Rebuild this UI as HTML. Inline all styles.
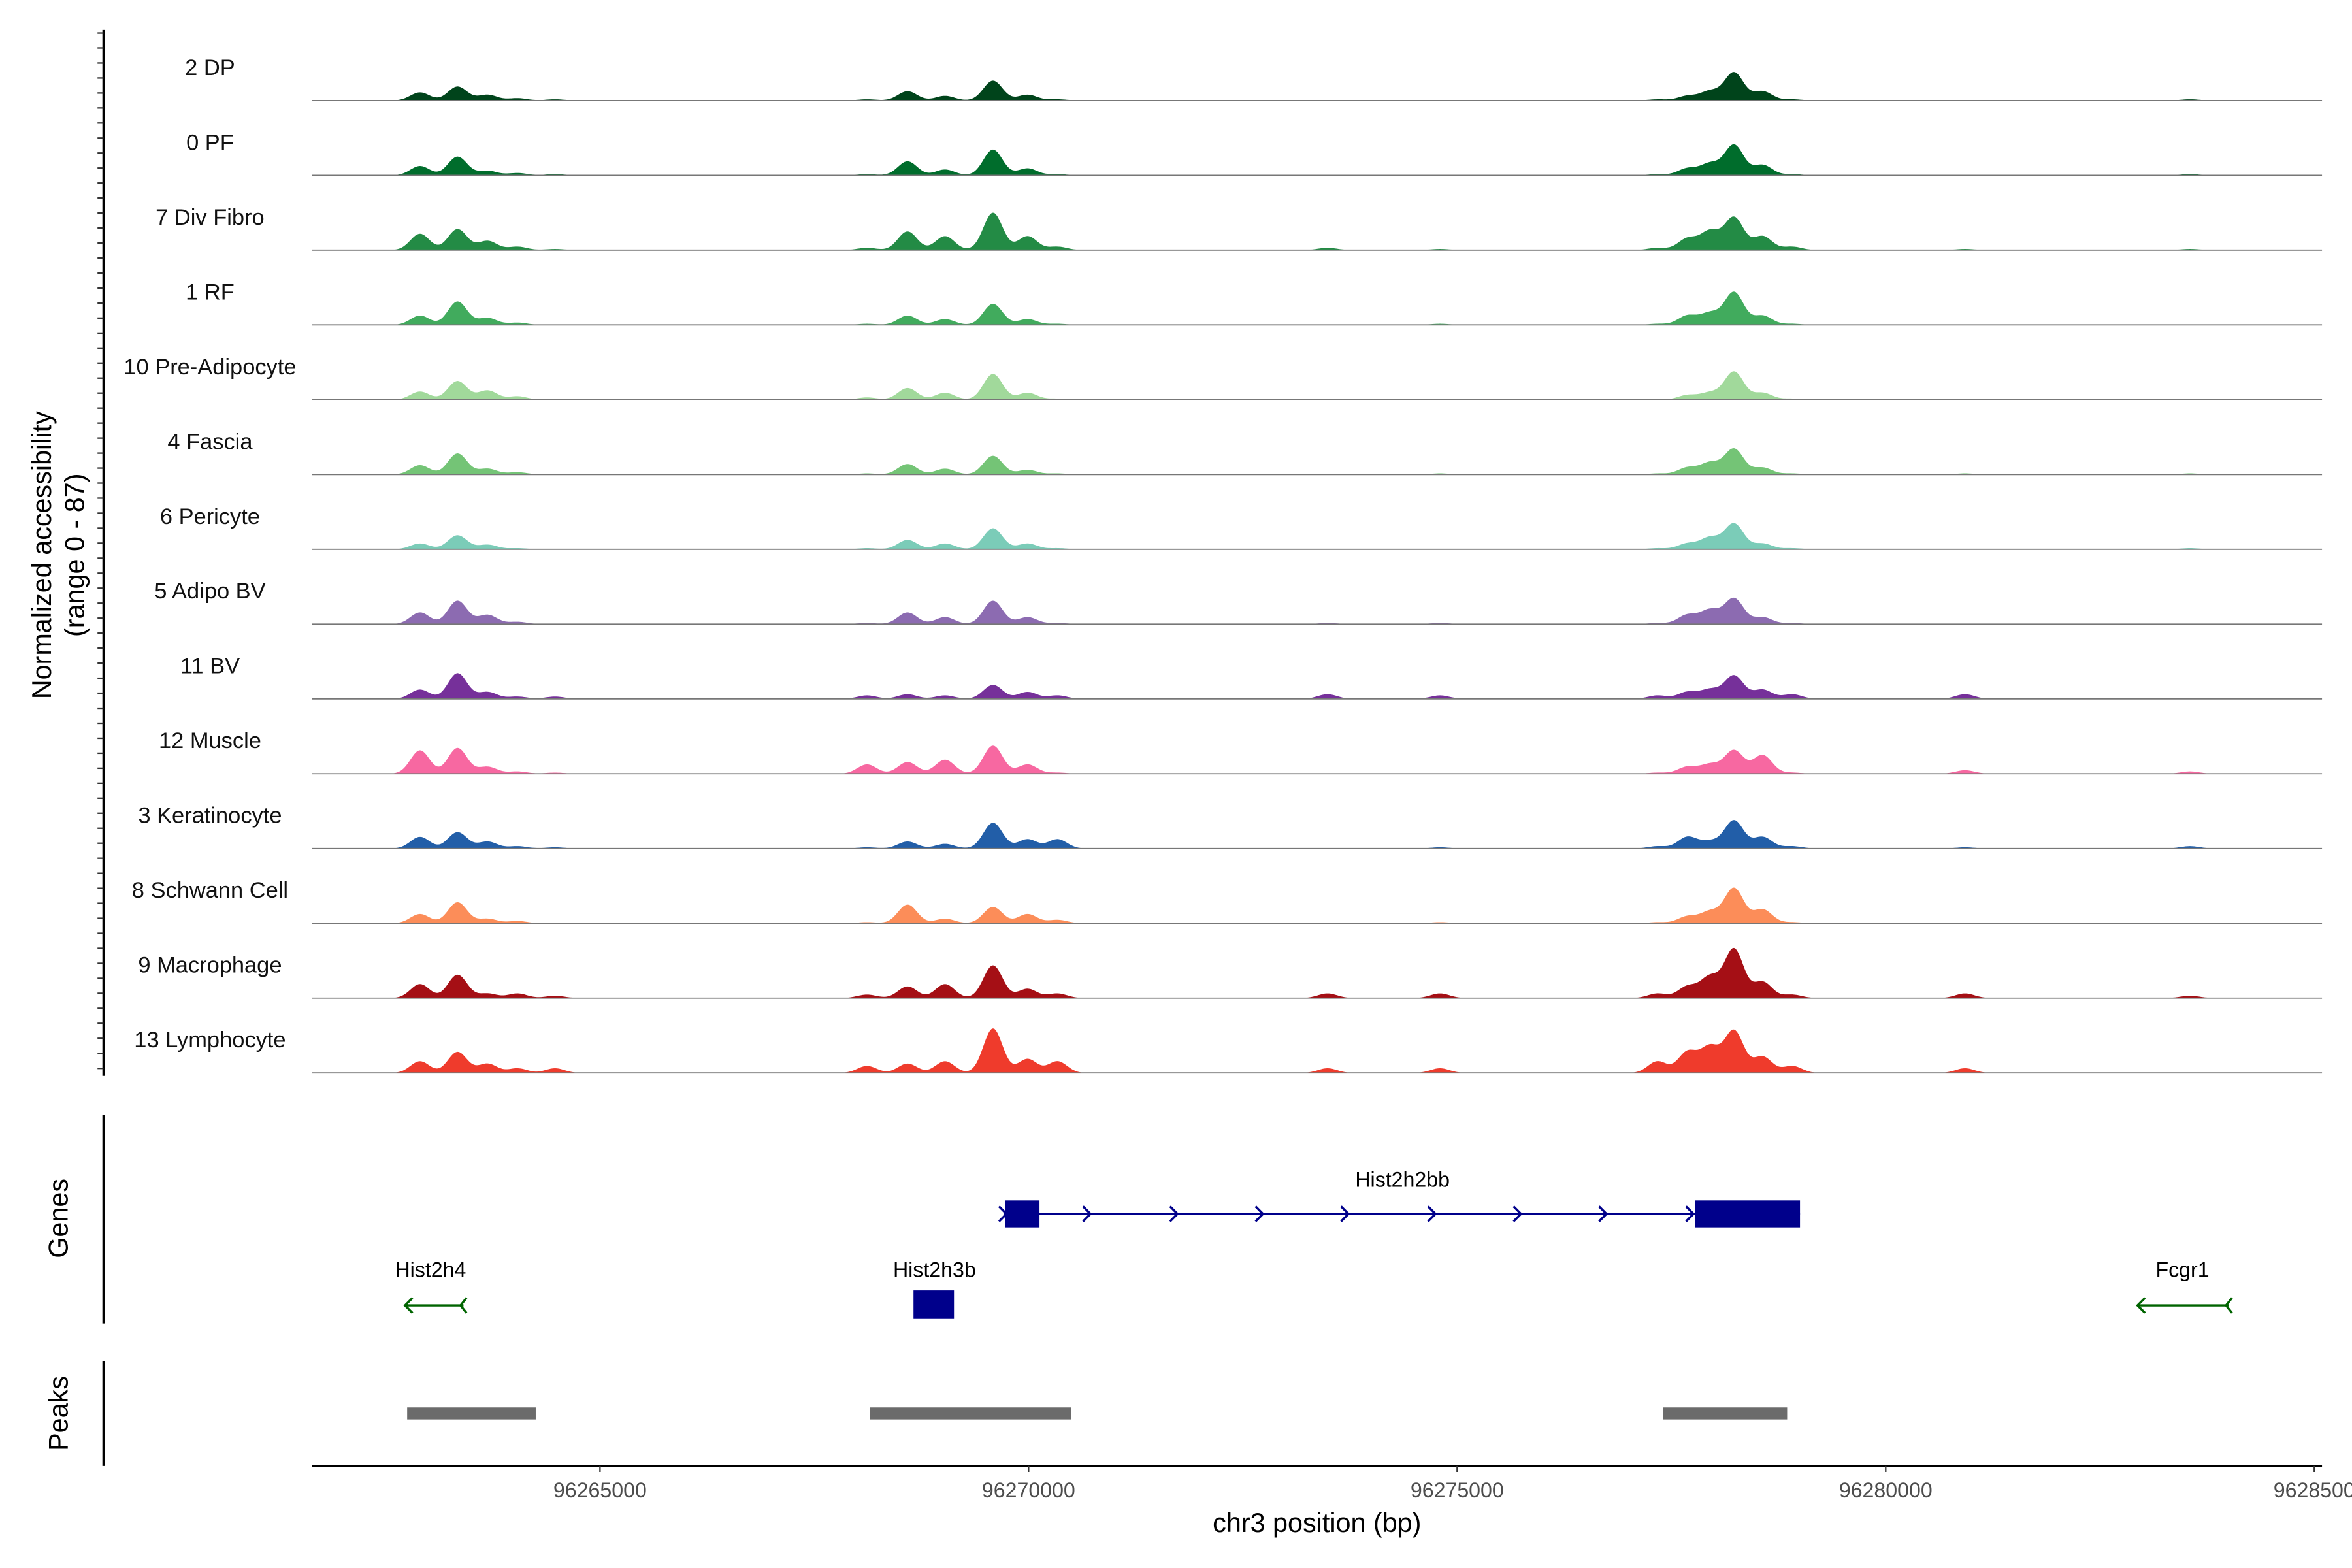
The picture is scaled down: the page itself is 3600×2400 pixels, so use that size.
<!DOCTYPE html>
<html><head><meta charset="utf-8"><style>
html,body{margin:0;padding:0;background:#fff;}
svg{display:block;font-family:"Liberation Sans",Arial,sans-serif;}
</style></head><body>
<svg id="chart" width="3600" height="2400" viewBox="0 0 1568 1045" preserveAspectRatio="none" xmlns="http://www.w3.org/2000/svg">
<rect width="1568" height="1045" fill="#fff"/>
<g id="tracks"></g>
<g id="genes"></g>
<g id="peaks"></g>
<g id="axes"></g>
</svg>
<script>
const trackNames = ["2 DP","0 PF","7 Div Fibro","1 RF","10 Pre-Adipocyte","4 Fascia","6 Pericyte","5 Adipo BV","11 BV","12 Muscle","3 Keratinocyte","8 Schwann Cell","9 Macrophage","13 Lymphocyte"];
const trackColors = ["#00441b","#006d2c","#238b45","#41ab5d","#a1d99b","#74c476","#7bccb8","#8c6bb1","#76309a","#f768a1","#225ea8","#fc8d59","#a50f15","#ef3b2c"];
const peakPositions = [96262900,96263338,96263688,96264038,96264475,96268115,96268588,96269025,96269585,96269988,96270338,96273488,96274800,96277338,96277688,96277950,96278230,96278563,96278910,96280925,96283550];
const trackHeights = [
 [7,12,5,2,1, 1,8,4,17,5,1, 0,0,1,4,8,24,8,1,0,1],
 [8,16,4,2,1, 1,12,5,22,6,1, 0,0,1,6,10,26,9,1,0,1],
 [14,18,8,3,1, 2,16,12,32,12,3, 2,1,2,10,16,28,12,3,1,1],
 [8,20,6,2,0, 1,8,5,18,5,1, 0,1,1,8,10,28,8,1,0,0],
 [7,16,8,3,0, 2,10,6,22,6,1, 0,1,0,4,6,24,6,1,1,0],
 [8,18,5,2,0, 1,9,5,16,4,1, 0,1,1,6,10,22,6,1,1,1],
 [5,12,4,1,0, 1,8,5,18,5,1, 0,0,1,5,10,22,5,1,0,1],
 [10,20,8,2,0, 1,10,6,20,6,1, 1,1,1,8,12,22,6,1,0,0],
 [8,22,6,2,2, 3,4,3,12,6,3, 4,3,3,6,8,20,8,4,4,0],
 [20,22,6,2,1, 8,10,12,24,8,1, 0,0,1,6,8,20,16,1,3,2],
 [10,14,6,2,1, 1,6,4,22,8,8, 0,1,2,10,6,24,10,2,1,2],
 [8,18,4,2,0, 1,16,4,14,8,3, 0,1,1,6,10,30,12,1,0,0],
 [12,20,4,4,2, 3,10,12,28,8,4, 4,4,4,10,18,42,14,3,4,2],
 [10,18,8,4,4, 6,8,10,38,12,10, 4,4,10,18,22,36,14,6,4,0]
];
const xTicks = [96265000,96270000,96275000,96280000,96285000];
const xTickLabels = ["96265000","96270000","96275000","96280000","9628500"];
const peakStarts = [96262750,96268150,96277400];
const peakEnds = [96264250,96270500,96278850];

const NS="http://www.w3.org/2000/svg";
const X0=208,X1=1548,BP0=96261640,BP1=96285090;
function xs(bp){return X0+(bp-BP0)/(BP1-BP0)*(X1-X0);}
function mk(tag,attrs,parent,txt){const e=document.createElementNS(NS,tag);for(const k in attrs)e.setAttribute(k,attrs[k]);if(txt!==undefined)e.textContent=txt;parent.appendChild(e);return e;}
const gT=document.getElementById('tracks');
trackNames.forEach((name,i)=>{
  const base=67+i*49.85;
  const g=mk('g',{},gT);
  
  
  let d='M'+X0+','+base;
  for(let x=X0;x<=X1;x+=1){
    let v=0;
    peakPositions.forEach((bp,j)=>{const c=xs(bp);const w=9;v+=0.78*trackHeights[i][j]*Math.exp(-Math.pow((x-c)/w,2));});
    d+=' L'+x+','+(base-v).toFixed(2);
  }
  d+=' L'+X1+','+base+' Z';
  const a=mk('path',{d:d,fill:trackColors[i]},g);
  
  
  const l=mk('line',{x1:X0,x2:X1,y1:base,y2:base,stroke:'#777','stroke-width':0.8},g);
  
  
  const t=mk('text',{x:140,y:base-17,'text-anchor':'middle','font-size':15,fill:'#111'},g,name);
  
  
});
const gA=document.getElementById('axes');
mk('line',{x1:69,x2:69,y1:20,y2:717,stroke:'#000','stroke-width':1.5},gA);
for(let y=22;y<=716;y+=10){mk('line',{x1:65,x2:69,y1:y,y2:y,stroke:'#333','stroke-width':1},gA);}
const yt=mk('text',{transform:'translate(34,370) rotate(-90)','text-anchor':'middle','font-size':18,fill:'#000'},gA,'Normalized accessibility');


mk('text',{transform:'translate(56,370) rotate(-90)','text-anchor':'middle','font-size':18,fill:'#000'},gA,'(range 0 - 87)');
mk('line',{x1:69,x2:69,y1:743,y2:882,stroke:'#000','stroke-width':1.5},gA);
mk('text',{transform:'translate(45,812) rotate(-90)','text-anchor':'middle','font-size':18},gA,'Genes');
mk('line',{x1:69,x2:69,y1:907,y2:977,stroke:'#000','stroke-width':1.5},gA);
mk('text',{transform:'translate(45,942) rotate(-90)','text-anchor':'middle','font-size':18},gA,'Peaks');
mk('line',{x1:X0,x2:X1,y1:977,y2:977,stroke:'#000','stroke-width':1.5},gA);
xTicks.forEach((t,i)=>{const x=xs(t);mk('line',{x1:x,x2:x,y1:977,y2:981,stroke:'#333'},gA);
 const tl=mk('text',{x:x,y:998,'text-anchor':'middle','font-size':14,fill:'#4d4d4d'},gA,xTickLabels[i]);
 
 });
const xt=mk('text',{x:878,y:1021,'text-anchor':'middle','font-size':18},gA,'chr3 position (bp)');


const gG=document.getElementById('genes');
const navy='#00008b',grn='#006400';
mk('line',{x1:669,x2:1200,y1:809,y2:809,stroke:navy,'stroke-width':1.5},gG);
mk('rect',{x:670,y:800,width:23,height:18,fill:navy},gG);
mk('rect',{x:1130,y:800,width:70,height:18,fill:navy},gG);
[669,725,783,840,897,955,1012,1069,1127].forEach(x=>mk('path',{d:`M${x-3},804 L${x+2},809 L${x-3},814`,fill:'none',stroke:navy,'stroke-width':1.5},gG));
mk('text',{x:935,y:791,'text-anchor':'middle','font-size':14},gG,'Hist2h2bb');
mk('line',{x1:270,x2:309,y1:870,y2:870,stroke:grn,'stroke-width':1.5},gG);
mk('path',{d:'M275,865 L270,870 L275,875 M311,865 L307,870 L311,875',fill:'none',stroke:grn,'stroke-width':1.5},gG);
mk('text',{x:287,y:851,'text-anchor':'middle','font-size':14},gG,'Hist2h4');
mk('rect',{x:609,y:860,width:27,height:19,fill:navy},gG);
mk('text',{x:623,y:851,'text-anchor':'middle','font-size':14},gG,'Hist2h3b');
mk('line',{x1:1425,x2:1486,y1:870,y2:870,stroke:grn,'stroke-width':1.5},gG);
mk('path',{d:'M1430,865 L1425,870 L1430,875 M1488,865 L1484,870 L1488,875',fill:'none',stroke:grn,'stroke-width':1.5},gG);
mk('text',{x:1455,y:851,'text-anchor':'middle','font-size':14},gG,'Fcgr1');
const gP=document.getElementById('peaks');
peakStarts.forEach((s,i)=>{const r=mk('rect',{x:xs(s),y:938,width:xs(peakEnds[i])-xs(s),height:8,fill:'#6b6b6b'},gP);
 
 });
</script>
</body></html>
